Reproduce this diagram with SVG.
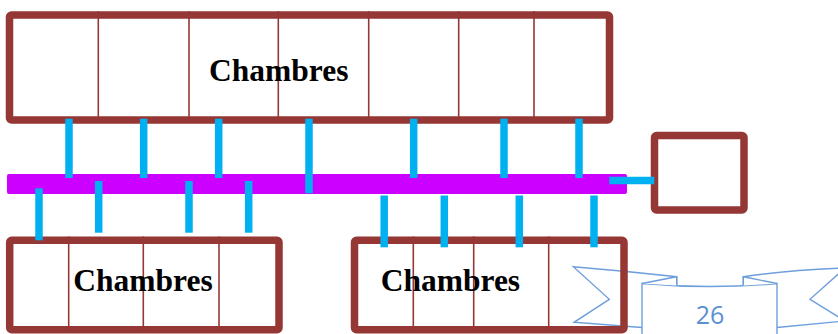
<svg xmlns="http://www.w3.org/2000/svg" width="838" height="334" viewBox="0 0 838 334">
<style>
.room{fill:none;stroke:#953735;stroke-width:7.5;stroke-linejoin:round}
.div{stroke:#953735;stroke-width:1.6}
.lbl{font-family:"Liberation Serif","Times New Roman",serif;font-weight:bold;font-size:31.5px;fill:#000}
.pipe{stroke:#00B0F0;stroke-width:7.5;fill:none}
.rib{fill:#fff;stroke:#6E9FDC;stroke-width:1.4;stroke-linejoin:miter}
</style>
<rect width="838" height="334" fill="#fff"/>
<g id="page-ribbon">
<path class="rib" d="M642,327.5 L574,322.3 L609.3,299.3 L573.3,266.7 Q625,271 676.7,276.7 L676.7,285 Z"/>
<path class="rib" d="M777,327.5 L845,321 L810,299.3 L845,268 Q790,270 743.3,276.7 L743.3,285 Z"/>
<path class="rib" d="M642,340 L642,283.5 Q710,289.5 777,283.5 L777,340"/>
<path class="rib" d="M642,283.5 L676.7,276.7 L676.7,285.5"/>
<path class="rib" d="M777,283.5 L743.3,276.7 L743.3,285.5"/>
<text x="710" y="324" text-anchor="middle" font-family="'Open Sans','Liberation Sans',Arial,sans-serif" font-size="25" fill="#5B8FD3">26</text>
</g>
<g id="top-rooms">
<rect class="room" x="9.5" y="15" width="600" height="105" rx="2"/>
<g class="div"><line x1="98.3" y1="11" x2="98.3" y2="120"/><line x1="189" y1="11" x2="189" y2="120"/><line x1="278.3" y1="11" x2="278.3" y2="120"/><line x1="368.7" y1="11" x2="368.7" y2="120"/><line x1="458.7" y1="11" x2="458.7" y2="120"/><line x1="534" y1="11" x2="534" y2="120"/></g>
<text class="lbl" x="209" y="81.3">Chambres</text>
</g>
<g id="bottom-left-rooms">
<rect class="room" x="9.7" y="240.3" width="269.3" height="89.4" rx="2"/>
<g class="div"><line x1="68.7" y1="236.5" x2="68.7" y2="330"/><line x1="143.3" y1="236.5" x2="143.3" y2="330"/><line x1="219" y1="236.5" x2="219" y2="330"/></g>
<text class="lbl" x="73.3" y="290.7">Chambres</text>
</g>
<g id="bottom-right-rooms">
<rect class="room" x="354.5" y="240.3" width="269.5" height="89.4" rx="2"/>
<g class="div"><line x1="413.3" y1="236.5" x2="413.3" y2="330"/><line x1="473.7" y1="236.5" x2="473.7" y2="330"/><line x1="548.7" y1="236.5" x2="548.7" y2="330"/></g>
<text class="lbl" x="380.7" y="290.7">Chambres</text>
</g>
<g id="side-room">
<rect class="room" x="654.5" y="135.5" width="89.5" height="74.5" rx="2"/>
</g>
<g id="corridor">
<rect x="7" y="174" width="620" height="20" rx="2" fill="#CC00FF"/>
</g>
<g id="connectors" class="pipe">
<line x1="69" y1="118.7" x2="69" y2="178"/>
<line x1="143.7" y1="118.7" x2="143.7" y2="178"/>
<line x1="218.7" y1="118.7" x2="218.7" y2="178"/>
<line x1="309" y1="118.7" x2="309" y2="193.3"/>
<line x1="413.7" y1="118.7" x2="413.7" y2="178"/>
<line x1="504" y1="118.7" x2="504" y2="178"/>
<line x1="579" y1="118.7" x2="579" y2="178"/>
<line x1="39" y1="188.3" x2="39" y2="240.3"/>
<line x1="98.7" y1="181" x2="98.7" y2="232.7"/>
<line x1="189" y1="181" x2="189" y2="232.7"/>
<line x1="248.7" y1="181" x2="248.7" y2="232.7"/>
<line x1="384.2" y1="195.5" x2="384.2" y2="247.3"/>
<line x1="444.3" y1="195.5" x2="444.3" y2="247.3"/>
<line x1="519.3" y1="195.5" x2="519.3" y2="247.3"/>
<line x1="594" y1="195.5" x2="594" y2="247.3"/>
<line x1="609.3" y1="180.5" x2="654.3" y2="180.5"/>
</g>
</svg>
